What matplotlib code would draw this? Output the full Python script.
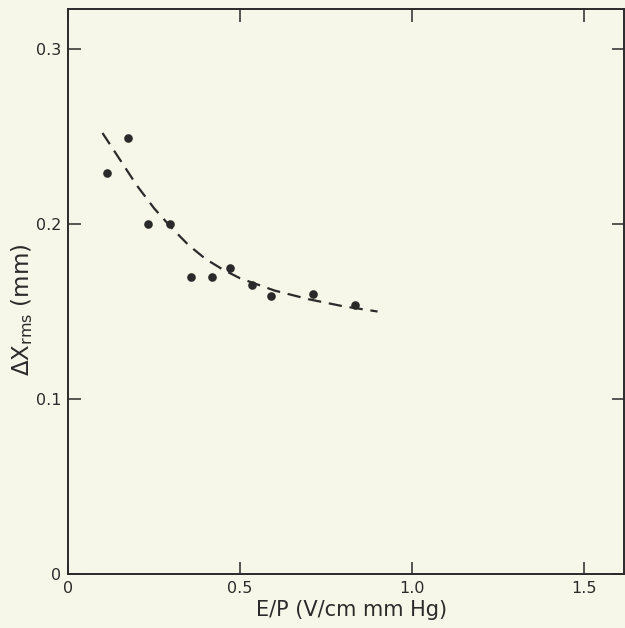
import matplotlib
matplotlib.use("Agg")
import matplotlib.pyplot as plt

# measured points (E/P, delta x rms)
ep = [0.114, 0.174, 0.233, 0.297, 0.358, 0.418, 0.471, 0.534, 0.590, 0.713, 0.834]
dx = [0.229, 0.249, 0.200, 0.200, 0.170, 0.170, 0.175, 0.165, 0.159, 0.160, 0.154]

# dashed fit curve
fit_ep = [0.10, 0.15, 0.20, 0.25, 0.30, 0.35, 0.40, 0.45, 0.50, 0.60, 0.70, 0.80, 0.90]
fit_dx = [0.252, 0.237, 0.222, 0.209, 0.198, 0.188, 0.180, 0.174, 0.169, 0.162, 0.157, 0.153, 0.150]

xticks = [0, 0.5, 1.0, 1.5]
xlabels = ["0", "0.5", "1.0", "1.5"]
yticks = [0, 0.1, 0.2, 0.3]
ylabels = ["0", "0.1", "0.2", "0.3"]

plt.rcParams["font.family"] = ["DejaVu Sans"]
plt.rcParams["mathtext.fontset"] = "dejavusans"

bg = "#f7f7e9"
ink = "#2a2a2a"

fig = plt.figure(figsize=(6.25, 6.28), dpi=100, facecolor=bg)
ax = fig.add_axes([0.109, 0.086, 0.889, 0.900], facecolor=bg)

ax.plot(fit_ep, fit_dx, color=ink, lw=1.6, dashes=(6, 3.5))
ax.plot(ep, dx, "o", color=ink, ms=6.2, mec="none")

ax.set_xlim(0, 1.616)
ax.set_ylim(0, 0.323)
ax.set_xticks(xticks)
ax.set_xticklabels(xlabels)
ax.set_yticks(yticks)
ax.set_yticklabels(ylabels)
ax.tick_params(direction="in", length=9, width=1.1, colors=ink, labelsize=11.5,
               top=True, right=True, labeltop=False, labelright=False, pad=5)
for s in ax.spines.values():
    s.set_color(ink)
    s.set_linewidth(1.4)

ax.set_xlabel("E/P (V/cm mm Hg)", fontsize=15, color=ink)
ax.set_ylabel(r"ΔX$_{\rm rms}$ (mm)", fontsize=16.5, color=ink)
ax.xaxis.set_label_coords(0.51, -0.046)
ax.yaxis.set_label_coords(-0.06, 0.467)

fig.savefig("out.png", dpi=100, facecolor=bg)
